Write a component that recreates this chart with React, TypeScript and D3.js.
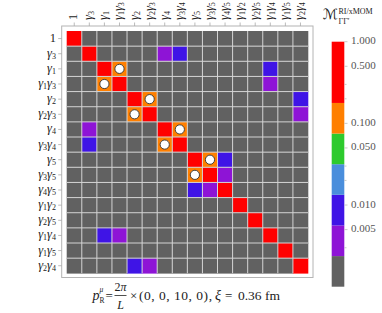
import React from 'react';
import * as d3 from 'd3';

const labels = ["1","γ3","γ1","γ1γ3","γ2","γ2γ3","γ4","γ3γ4","γ5","γ3γ5","γ4γ5","γ1γ2","γ2γ5","γ1γ4","γ1γ5","γ2γ4"];
const diagValue = 1.0;
// off-diagonal non-negligible entries: [row, col, value]
const offDiag: [number, number, number][] = [
  [2,3,0.12],[3,2,0.12],[4,5,0.12],[5,4,0.12],[6,7,0.12],[7,6,0.12],[8,9,0.12],[9,8,0.12],
  [1,7,0.009],[7,1,0.009],[8,10,0.009],[10,8,0.009],[2,13,0.009],[13,2,0.009],[4,15,0.009],[15,4,0.009],
  [1,6,0.004],[6,1,0.004],[9,10,0.004],[10,9,0.004],[3,13,0.004],[13,3,0.004],[5,15,0.004],[15,5,0.004],
];
const markedCells: [number, number][] = [[2,3],[3,2],[4,5],[5,4],[6,7],[7,6],[8,9],[9,8]];
const binEdges = [0.00237, 0.00562, 0.01334, 0.03162, 0.07499, 0.1778];
const binColors = ["#616161","#8E14D6","#3F14E6","#4A8EDC","#2DCA2D","#FF7F00","#FF0000"];
const cbarTicks = [1, 0.5, 0.1, 0.05, 0.01, 0.005];
const cbarMinor = [0.3, 0.2, 0.03, 0.02, 0.003];

const N = labels.length;
const serif = "'Liberation Serif', 'DejaVu Serif', serif";

function Label({ s, x, y, anchor, rotate }: { s: string; x: number; y: number; anchor: string; rotate?: boolean }) {
  const parts: React.ReactNode[] = [];
  if (s === "1") parts.push(<tspan key="a">1</tspan>);
  else {
    const toks = s.match(/γ\d/g) || [];
    toks.forEach((t, i) => {
      parts.push(<tspan key={'g' + i} fontStyle="italic" dy={i === 0 ? 0 : -3}>γ</tspan>);
      parts.push(<tspan key={'d' + i} fontSize={8} dy={3}>{t[1]}</tspan>);
    });
  }
  return (
    <text x={x} y={y} textAnchor={anchor} fontFamily={serif} fontSize={12.5} fill="#222"
      transform={rotate ? `rotate(-90 ${x} ${y})` : undefined} dominantBaseline="middle">
      {parts}
    </text>
  );
}

export default function App() {
  const x = d3.scaleBand<number>().domain(d3.range(N)).range([66.7, 308]);
  const y = d3.scaleBand<number>().domain(d3.range(N)).range([31, 273.3]);
  const bw = x.bandwidth();
  const bh = y.bandwidth();
  const color = d3.scaleThreshold<number, string>().domain(binEdges).range(binColors);

  const values: number[][] = d3.range(N).map(() => d3.range(N).map(() => 0));
  d3.range(N).forEach(i => { values[i][i] = diagValue; });
  offDiag.forEach(([r, c, v]) => { values[r][c] = v; });

  const cy = d3.scaleLog().domain([1, 0.001]).range([41.7, 286.7]);
  const edgesAll = [0.001, ...binEdges, 1];

  return (
    <svg width={382} height={313} style={{ position: 'absolute', left: 0, top: 0, background: '#fff' }}>
      {/* cells */}
      {values.map((row, r) => row.map((v, c) => (
        <rect key={`${r}-${c}`} x={x(c)} y={y(r)} width={bw + 0.3} height={bh + 0.3} fill={color(v)} />
      )))}
      {/* grid lines */}
      {d3.range(1, N).map(i => (
        <g key={'gl' + i}>
          <line x1={x(i)} x2={x(i)} y1={31} y2={273.3} stroke="#d4d4d4" strokeWidth={1} />
          <line y1={y(i)} y2={y(i)} x1={66.7} x2={308} stroke="#d4d4d4" strokeWidth={1} />
        </g>
      ))}
      {/* markers */}
      {markedCells.map(([r, c]) => (
        <circle key={'m' + r + '-' + c} cx={(x(c) as number) + bw / 2} cy={(y(r) as number) + bh / 2} r={4.6}
          fill="#fff" stroke="#333" strokeWidth={0.9} />
      ))}
      {/* frame */}
      <rect x={61.7} y={26} width={251.3} height={251.5} fill="none" stroke="#b4b4b4" strokeWidth={1} />
      {/* ticks and labels */}
      {labels.map((l, i) => {
        const xc = (x(i) as number) + bw / 2;
        const yc = (y(i) as number) + bh / 2;
        return (
          <g key={'lab' + i}>
            <line x1={xc} x2={xc} y1={26} y2={22.5} stroke="#aaa" strokeWidth={0.8} />
            <line x1={61.7} x2={58.2} y1={yc} y2={yc} stroke="#aaa" strokeWidth={0.8} />
            <Label s={l} x={xc} y={20} anchor="start" rotate />
            <Label s={l} x={56} y={yc} anchor="end" />
          </g>
        );
      })}
      {/* colorbar */}
      {edgesAll.slice(0, -1).map((lo, k) => {
        const hi = edgesAll[k + 1];
        return <rect key={'cb' + k} x={331.7} width={12.6} y={cy(hi)} height={cy(lo) - cy(hi)} fill={binColors[k]} />;
      })}
      {cbarTicks.map(t => (
        <g key={'ct' + t}>
          <line x1={344.3} x2={347.5} y1={cy(t)} y2={cy(t)} stroke="#bbb" strokeWidth={0.8} />
          <text x={351} y={cy(t)} dominantBaseline="middle" fontFamily={serif} fontSize={11} fill="#555">{t.toFixed(3)}</text>
        </g>
      ))}
      {cbarMinor.map(t => (
        <line key={'cm' + t} x1={344.3} x2={346.5} y1={cy(t)} y2={cy(t)} stroke="#bbb" strokeWidth={0.8} />
      ))}
      {/* colorbar title */}
      <text x={323} y={19} fontFamily="'DejaVu Sans', sans-serif" fontSize={14} fill="#222">ℳ</text>
      <text x={338.5} y={13.5} fontFamily={serif} fontSize={8} fill="#222">RI/xMOM</text>
      <text x={338.5} y={24} fontFamily={serif} fontSize={8} fill="#222">ΓΓ′</text>
      {/* caption */}
      <g fontFamily={serif} fill="#222">
        <text x={92.5} y={300} fontSize={14} fontStyle="italic">p</text>
        <text x={99.5} y={292} fontSize={7.5} fontStyle="italic">μ</text>
        <text x={99.5} y={303} fontSize={7.5}>R</text>
        <text x={105.5} y={300} fontSize={13}>=</text>
        <text x={120.5} y={291} fontSize={12} textAnchor="middle">2<tspan fontStyle="italic">π</tspan></text>
        <line x1={114.5} x2={126.5} y1={295.5} y2={295.5} stroke="#222" strokeWidth={0.8} />
        <text x={120.5} y={309} fontSize={12} textAnchor="middle" fontStyle="italic">L</text>
        <text x={130} y={300} fontSize={13}>×</text>
        <text x={139} y={300} fontSize={13.5} textLength={73} lengthAdjust="spacing">(0, 0, 10, 0),</text>
        <text x={215} y={300} fontSize={14} fontStyle="italic">ξ</text>
        <text x={225} y={300} fontSize={13}>=</text>
        <text x={238} y={300} fontSize={13.5} textLength={42} lengthAdjust="spacing">0.36 fm</text>
      </g>
    </svg>
  );
}
